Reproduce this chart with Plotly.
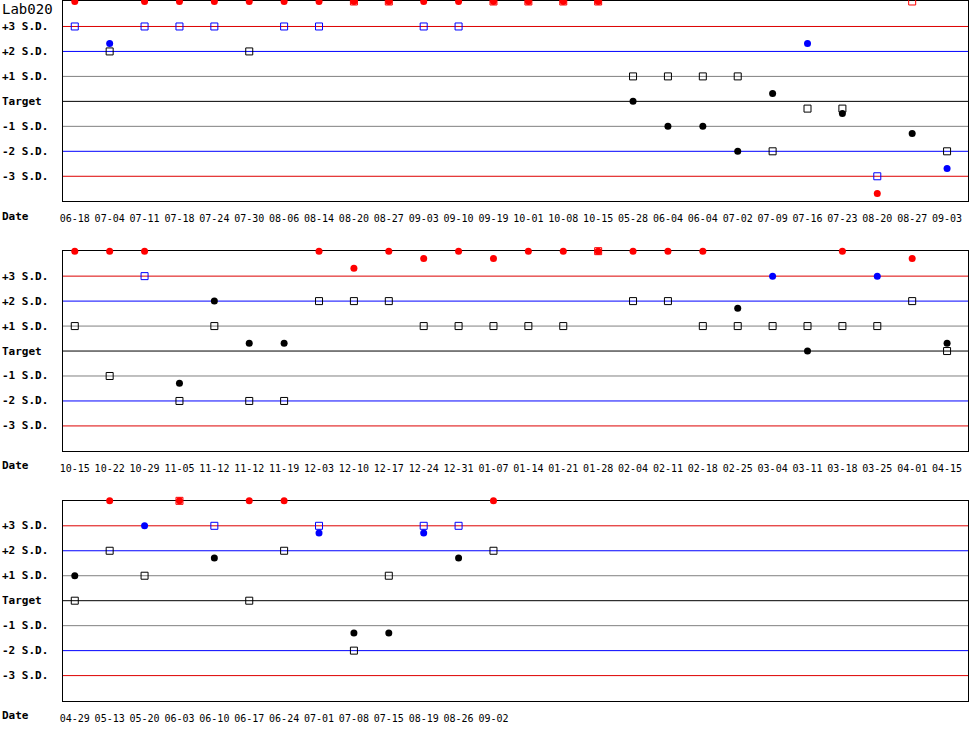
import plotly.graph_objects as go

## dates on each of the three rows
dates1 = ["06-18", "07-04", "07-11", "07-18", "07-24", "07-30", "08-06", "08-14", "08-20", "08-27",
          "09-03", "09-10", "09-19", "10-01", "10-08", "10-15", "05-28", "06-04", "06-04", "07-02",
          "07-09", "07-16", "07-23", "08-20", "08-27", "09-03"]
dates2 = ["10-15", "10-22", "10-29", "11-05", "11-12", "11-12", "11-19", "12-03", "12-10", "12-17",
          "12-24", "12-31", "01-07", "01-14", "01-21", "01-28", "02-04", "02-11", "02-18", "02-25",
          "03-04", "03-11", "03-18", "03-25", "04-01", "04-15"]
dates3 = ["04-29", "05-13", "05-20", "06-03", "06-10", "06-17", "06-24", "07-01", "07-08", "07-15",
          "08-19", "08-26", "09-02"]

## results in S.D. units, 4 = off scale (drawn on top edge)
circles1 = [4, 2.32, 4, 4, 4, 4, 4, 4, 4, 4, 4, 4, 4, 4, 4, 4, 0, -1, -1, -2,
            0.32, 2.32, -0.49, -3.69, -1.29, -2.69]
squares1 = [3, 2, 3, 3, 3, 2, 3, 3, 4, 4, 3, 3, 4, 4, 4, 4, 1, 1, 1, 1,
            -2, -0.29, -0.29, -3, 4, -2]
circles2 = [4, 4, 4, -1.29, 2, 0.31, 0.31, 4, 3.32, 4, 3.71, 4, 3.71, 4, 4, 4, 4, 4, 4, 1.71,
            3, 0, 4, 3, 3.71, 0.31]
squares2 = [1, -1, 3, -2, 1, -2, -2, 2, 2, 2, 1, 1, 1, 1, 1, 4, 2, 2, 1, 1,
            1, 1, 1, 1, 2, 0]
circles3 = [1, 4, 3, 4, 1.71, 4, 4, 2.71, -1.29, -1.29, 2.71, 1.71, 4]
squares3 = [0, 2, 1, 4, 3, 0, 2, 3, -2, 1, 3, 3, 2]

sd_levels = [3, 2, 1, 0, -1, -2, -3]
sd_labels = ["+3 S.D.", "+2 S.D.", "+1 S.D.", "Target", "-1 S.D.", "-2 S.D.", "-3 S.D."]
sd_colors = ["#DD0000", "#0000FF", "#808080", "#000000", "#808080", "#0000FF", "#DD0000"]

rows = [(dates1, circles1, squares1), (dates2, circles2, squares2), (dates3, circles3, squares3)]

W, H = 970, 750
tops = [0.5, 250.5, 500.5]  ## top pixel of each plot box (half px keeps 1px lines sharp)
box_h = 200
spacing = 35  ## px between dates
mono = "DejaVu Sans Mono"


def point_color(v):
    a = abs(v)
    if a > 3.001:
        return "#FF0000"
    if a > 2.001:
        return "#0000FF"
    return "#000000"


fig = go.Figure()
for r, (dates, circ, sq) in enumerate(rows, 1):
    n = "" if r == 1 else str(r)
    xs = list(range(len(dates)))
    fig.add_trace(go.Scatter(x=xs, y=sq, mode="markers", xaxis="x" + n, yaxis="y" + n,
                             marker=dict(symbol="square-open", size=7, color=[point_color(v) for v in sq],
                                         line=dict(width=1)),
                             cliponaxis=False, showlegend=False, hoverinfo="skip"))
    fig.add_trace(go.Scatter(x=xs, y=circ, mode="markers", xaxis="x" + n, yaxis="y" + n,
                             marker=dict(symbol="circle", size=7, color=[point_color(v) for v in circ],
                                         line=dict(width=0)),
                             cliponaxis=False, showlegend=False, hoverinfo="skip"))

    top = tops[r - 1]
    fig.update_layout({
        "xaxis" + n: dict(domain=[60 / W, 968 / W], anchor="y" + n,
                          range=[-12 / spacing, (968 - 72) / spacing],
                          tickvals=xs, ticktext=dates, ticks="", showgrid=False, zeroline=False,
                          showline=True, mirror=True, linecolor="black", linewidth=1, layer="below traces",
                          tickfont=dict(family=mono, size=10, color="black"), ticklabelstandoff=8),
        "yaxis" + n: dict(domain=[1 - (top + box_h) / H, 1 - top / H], anchor="x" + n,
                          range=[-4, 4], showticklabels=False, showgrid=False, zeroline=False,
                          showline=True, mirror=True, linecolor="black", linewidth=1, layer="below traces"),
    })
    for lev, lab, col in zip(sd_levels, sd_labels, sd_colors):
        fig.add_shape(type="line", xref="x" + n + " domain", yref="y" + n, x0=0, x1=1, y0=lev, y1=lev,
                      line=dict(color=col, width=1), layer="below")
        fig.add_annotation(text="<b>%s</b>" % lab, xref="paper", yref="y" + n, x=0, y=lev, xshift=-3,
                           xanchor="left", yanchor="middle", showarrow=False,
                           font=dict(family=mono, size=11, color="black"))
    fig.add_annotation(text="<b>Date</b>", xref="paper", yref="y" + n + " domain", x=0, y=-0.075,
                       xshift=-3, xanchor="left", yanchor="middle", showarrow=False,
                       font=dict(family=mono, size=11, color="black"))

fig.add_annotation(text="Lab020", xref="paper", yref="paper", x=0, y=1 - 8 / H, xshift=-3,
                   xanchor="left", yanchor="middle", showarrow=False,
                   font=dict(family=mono, size=14, color="black"))

fig.update_layout(width=W, height=H, margin=dict(l=0, r=0, t=0, b=0),
                  plot_bgcolor="white", paper_bgcolor="white")
fig.write_html("out.html", config={"displayModeBar": False},
               post_script="document.body.style.margin='0';")
